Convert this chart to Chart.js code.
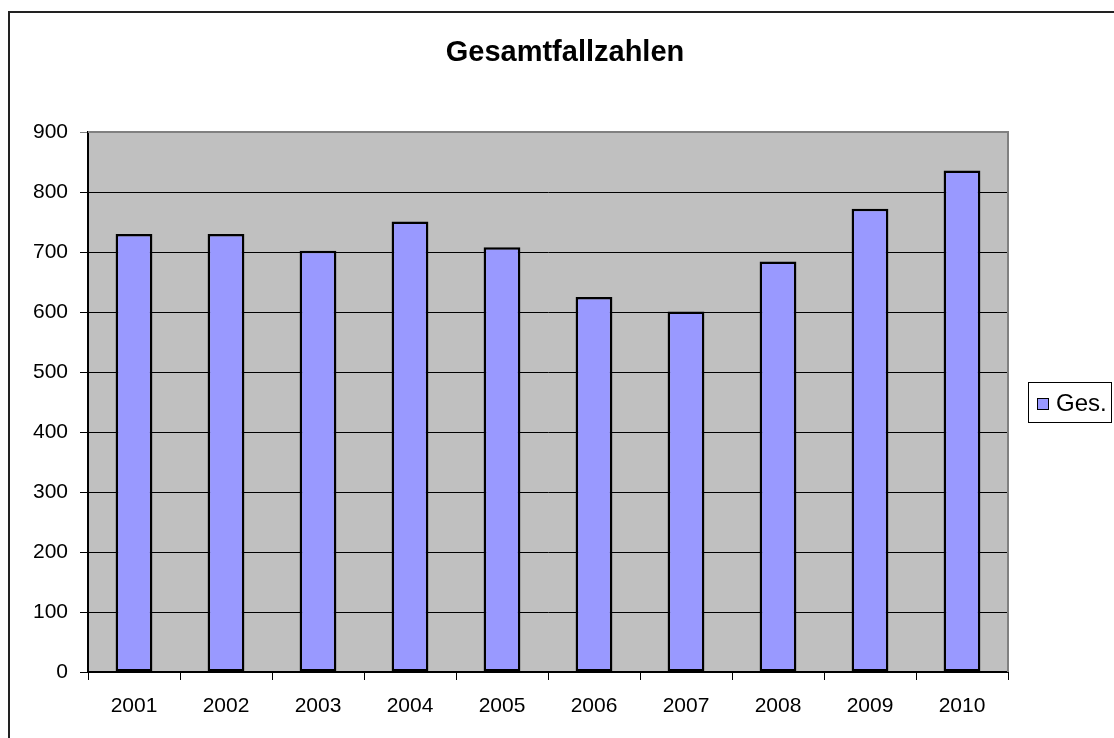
<!DOCTYPE html>
<html>
<head>
<meta charset="utf-8">
<script src="https://cdn.jsdelivr.net/npm/chart.js@4"></script>
<style>
  html, body { margin: 0; padding: 0; background: #fff; }
  #wrap { width: 1114px; height: 738px; }
</style>
</head>
<body>
<div id="wrap"><canvas id="chart" width="1114" height="738"></canvas></div>
<script>
// data
const years = ['2001', '2002', '2003', '2004', '2005', '2006', '2007', '2008', '2009', '2010'];
const ges = [730, 730, 702, 751, 708, 625, 601, 684, 772, 836];
const seriesName = 'Ges.';
const chartTitle = 'Gesamtfallzahlen';

const font = 'Liberation Sans, Arial, sans-serif';

// grey plot background, outer frame, title, plot border and legend box
const excelLook = {
  id: 'excelLook',
  beforeDraw(chart) {
    const { ctx, chartArea: a } = chart;
    ctx.save();
    ctx.fillStyle = '#fff';
    ctx.fillRect(0, 0, chart.width, chart.height);
    ctx.fillStyle = '#C0C0C0';
    ctx.fillRect(a.left, a.top, a.right - a.left, a.bottom - a.top);
    ctx.restore();
  },
  afterDraw(chart) {
    const { ctx, chartArea: a } = chart;
    ctx.save();
    // outer frame
    ctx.strokeStyle = '#222';
    ctx.lineWidth = 2;
    ctx.strokeRect(9, 12, 1300, 900);

    // title, centred on the whole frame like Excel does
    ctx.fillStyle = '#000';
    ctx.font = 'bold 29px ' + font;
    ctx.textAlign = 'center';
    ctx.textBaseline = 'middle';
    ctx.fillText(chartTitle, 565, 53);

    // top and right border of plot
    ctx.strokeStyle = '#808080';
    ctx.lineWidth = 2;
    ctx.beginPath();
    ctx.moveTo(a.left, a.top);
    ctx.lineTo(a.right, a.top);
    ctx.lineTo(a.right, a.bottom);
    ctx.stroke();

    // legend
    const ds = chart.data.datasets[0];
    ctx.fillStyle = '#fff';
    ctx.fillRect(1028, 382, 84, 40);
    ctx.strokeStyle = '#000';
    ctx.lineWidth = 1;
    ctx.strokeRect(1028.5, 382.5, 83, 40);
    ctx.fillStyle = ds.backgroundColor;
    ctx.fillRect(1037, 398, 12, 12);
    ctx.strokeRect(1037.5, 398.5, 11, 11);
    ctx.fillStyle = '#000';
    ctx.font = '24px ' + font;
    ctx.textAlign = 'left';
    ctx.fillText(ds.label, 1056, 404);
    ctx.restore();
  }
};

new Chart(document.getElementById('chart'), {
  type: 'bar',
  data: {
    labels: years,
    datasets: [{
      label: seriesName,
      data: ges,
      backgroundColor: '#9999FF',
      borderColor: '#000',
      borderWidth: 2.5,
      borderSkipped: false,
      barPercentage: 0.4,
      categoryPercentage: 1
    }]
  },
  options: {
    responsive: false,
    animation: false,
    layout: { padding: { left: 0, right: 106, top: 132, bottom: 0 } },
    plugins: {
      legend: { display: false },
      tooltip: { enabled: false },
      title: { display: false }
    },
    scales: {
      x: {
        offset: true,
        grid: {
          offset: true,
          drawOnChartArea: false,
          color: '#000',
          tickLength: 8
        },
        border: { color: '#000', width: 2 },
        ticks: {
          color: '#000',
          font: { family: font, size: 21 },
          padding: 14,
          maxRotation: 0
        },
        afterFit(scale) { scale.height = 66; }
      },
      y: {
        min: 0,
        max: 900,
        grid: {
          color: ctx => (ctx.tick && ctx.tick.value === 900 ? '#808080' : '#000'),
          lineWidth: 1,
          tickLength: 8
        },
        border: { color: '#000', width: 2 },
        ticks: {
          stepSize: 100,
          color: '#000',
          font: { family: font, size: 21 },
          padding: 12
        },
        afterFit(scale) { scale.width = 88; }
      }
    }
  },
  plugins: [excelLook]
});
</script>
</body>
</html>
